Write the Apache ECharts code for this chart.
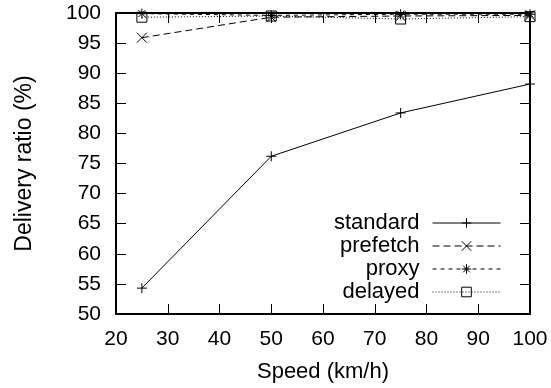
<!DOCTYPE html>
<html><head><meta charset="utf-8">
<script src="https://cdn.jsdelivr.net/npm/echarts@6/dist/echarts.min.js"></script>
<style>html,body{margin:0;padding:0;background:#fff}#c{width:551px;height:388px}</style>
</head><body><div id="c"></div>
<script>
const speeds = [25, 50, 75, 100];
const standard = [54.3, 76.2, 83.4, 88.2];
const prefetch = [95.9, 99.3, 99.5, 99.6];
const proxy = [99.9, 99.6, 99.8, 99.8];
const delayed = [99.3, 99.5, 99.0, 99.4];
const seriesNames = ['standard', 'prefetch', 'proxy', 'delayed'];
const xTicks = [20, 30, 40, 50, 60, 70, 80, 90, 100];
const yTicks = [50, 55, 60, 65, 70, 75, 80, 85, 90, 95, 100];

const FONT = 'Liberation Sans';
const symbols = {
  standard: 'path://M0,5L10,5M5,0L5,10',
  prefetch: 'path://M0,0L10,10M0,10L10,0',
  proxy: 'path://M0,5L10,5M5,0L5,10M1.5,1.5L8.5,8.5M1.5,8.5L8.5,1.5',
  delayed: 'path://M0,0L10,0L10,10L0,10Z'
};
const dashes = { standard: 'solid', prefetch: [7, 4], proxy: [4, 4], delayed: [1, 2] };
const values = { standard, prefetch, proxy, delayed };

function mkSeries(name) {
  return {
    name, type: 'line',
    data: speeds.map((s, i) => [s, values[name][i]]),
    symbol: symbols[name], symbolSize: 10, symbolKeepAspect: true,
    showAllSymbol: true,
    lineStyle: { color: '#000', width: 1, type: dashes[name] },
    itemStyle: { color: 'rgba(0,0,0,0)', borderColor: '#000', borderWidth: 1 },
    emphasis: { disabled: true },
    z: name === 'standard' ? 4 : 3
  };
}

const axisCommon = {
  axisLine: { lineStyle: { color: '#000', width: 2 } },
  axisTick: { inside: true, length: 10, lineStyle: { color: '#000', width: 1 } },
  splitLine: { show: false },
};

const chart = echarts.init(document.getElementById('c'));
chart.setOption({
  animation: false,
  backgroundColor: '#fff',
  textStyle: { fontFamily: FONT },
  grid: { left: 116, right: 21, top: 13, bottom: 74 },
  xAxis: [
    Object.assign({ type: 'value', min: xTicks[0], max: xTicks[xTicks.length - 1], interval: 10,
      name: 'Speed (km/h)', nameLocation: 'middle', nameGap: 47,
      nameTextStyle: { fontSize: 22, color: '#000', fontFamily: FONT },
      axisLabel: { fontSize: 21, color: '#000', margin: 15, fontFamily: FONT } }, axisCommon),
    Object.assign({ type: 'value', position: 'top', min: xTicks[0], max: xTicks[xTicks.length - 1], interval: 10,
      axisLabel: { show: false } }, axisCommon)
  ],
  yAxis: [
    Object.assign({ type: 'value', min: yTicks[0], max: yTicks[yTicks.length - 1], interval: 5,
      name: 'Delivery ratio (%)', nameLocation: 'middle', nameGap: 80, nameRotate: 90,
      nameTextStyle: { fontSize: 23, color: '#000', fontFamily: FONT },
      axisLabel: { fontSize: 21, color: '#000', margin: 15, fontFamily: FONT } }, axisCommon),
    Object.assign({ type: 'value', position: 'right', min: yTicks[0], max: yTicks[yTicks.length - 1], interval: 5,
      axisLabel: { show: false } }, axisCommon)
  ],
  legend: {
    data: seriesNames,
    orient: 'vertical', align: 'right',
    right: 50, top: 212, padding: 0,
    itemWidth: 68, itemHeight: 12, itemGap: 1,
    lineStyle: { width: 1 },
    itemStyle: { borderWidth: 1, color: 'rgba(0,0,0,0)', borderColor: '#000' },
    textStyle: { fontSize: 22, lineHeight: 22, color: '#000', fontFamily: FONT, padding: [0, 8, 0, 0] },
    selectedMode: false
  },
  series: seriesNames.map(mkSeries)
});
</script></body></html>
